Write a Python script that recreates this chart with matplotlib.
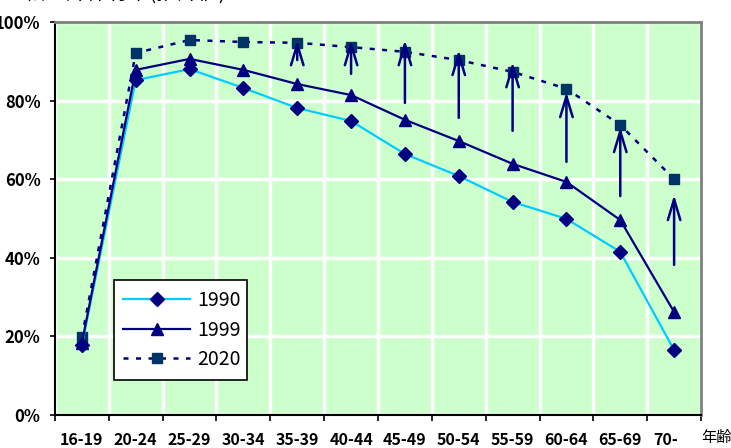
import matplotlib
matplotlib.use("Agg")
import matplotlib.pyplot as plt
import matplotlib.transforms as mtransforms
import numpy as np

plt.rcParams['font.family'] = ['Noto Sans CJK JP', 'DejaVu Sans']

# age groups and rates (%)
ages = ["16-19", "20-24", "25-29", "30-34", "35-39", "40-44",
        "45-49", "50-54", "55-59", "60-64", "65-69", "70-"]
rate_1990 = [17.8, 85.2, 88.0, 83.2, 78.1, 74.8, 66.4, 60.8, 54.2, 49.9, 41.5, 16.5]
rate_1999 = [18.3, 87.8, 90.6, 87.8, 84.2, 81.4, 75.1, 69.7, 63.9, 59.3, 49.6, 26.2]
rate_2020 = [19.8, 92.1, 95.4, 94.9, 94.7, 93.6, 92.4, 90.3, 87.3, 83.0, 73.8, 60.0]

# upward arrows: group index, tail value, head value
arrow_idx = [4, 5, 6, 7, 8, 9, 10, 11]
arrow_from = [90.3, 86.8, 79.4, 75.6, 72.3, 64.4, 55.7, 38.2]
arrow_to = [95.4, 95.4, 95.4, 92.9, 89.8, 82.2, 73.3, 56.0]

y_ticks = [0, 20, 40, 60, 80, 100]
y_labels = ["0%", "20%", "40%", "60%", "80%", "100%"]

NAVY = "#000080"
LIGHT_BLUE = "#00CCFF"
SQUARE = "#003366"
BG = "#CCFFCC"

fig = plt.figure(figsize=(7.31, 4.48), dpi=100)
ax = fig.add_axes([0.0752, 0.0737, 0.8838, 0.8773])
ax.set_facecolor(BG)

x = np.arange(len(ages))

ax.plot(x, rate_1990, color=LIGHT_BLUE, lw=1.6, marker="D", ms=7.5,
        mfc=NAVY, mec=NAVY, label="1990", zorder=4)
ax.plot(x, rate_1999, color=NAVY, lw=1.6, marker="^", ms=9,
        mfc=NAVY, mec=NAVY, label="1999", zorder=4)
ax.plot(x, rate_2020, color=NAVY, lw=1.8, ls=(0, (2, 3)), marker="s", ms=7.5,
        mfc=SQUARE, mec=SQUARE, label="2020", zorder=3)

for i, y0, y1 in zip(arrow_idx, arrow_from, arrow_to):
    ax.annotate("", xy=(x[i], y1), xytext=(x[i], y0),
                arrowprops=dict(arrowstyle="->,head_length=1.0,head_width=0.3",
                                color=NAVY, lw=1.8, mutation_scale=15,
                                shrinkA=0, shrinkB=0),
                zorder=5)

ax.set_xlim(-0.5, len(ages) - 0.5)
ax.set_ylim(0, 100)

# white grid on category boundaries and every 20%
ax.set_xticks(np.arange(len(ages) + 1) - 0.5)
ax.set_xticklabels([])
ax.set_xticks(x, minor=True)
ax.set_xticklabels(ages, minor=True, fontsize=11.5, fontweight="bold")
ax.tick_params(axis="x", which="minor", length=0, pad=12)
ax.tick_params(axis="x", which="major", length=4, width=1.2, direction="out")
ax.set_yticks(y_ticks)
ax.set_yticklabels(y_labels, fontsize=12, fontweight="bold")
ax.tick_params(axis="y", length=3.5, width=1.2, direction="out", pad=7)
ax.grid(True, which="major", color="white", lw=2.5)
ax.set_axisbelow(True)

# last age label sits a little left, next to the axis unit
last = ax.get_xticklabels(minor=True)[-1]
last.set_transform(last.get_transform() +
                   mtransforms.ScaledTranslation(-0.08, 0, fig.dpi_scale_trans))

for side in ("top", "right"):
    ax.spines[side].set_color("#808080")
    ax.spines[side].set_linewidth(2)
for side in ("left", "bottom"):
    ax.spines[side].set_color("black")
    ax.spines[side].set_linewidth(1.5)

leg = ax.legend(loc="lower left", bbox_to_anchor=(0.091, 0.089, 0.206, 0.25),
                mode="expand", borderaxespad=0, fontsize=14, handlelength=3.4,
                handletextpad=0.4, labelspacing=0.45, borderpad=0.5,
                fancybox=False, framealpha=1, edgecolor="black")
leg.get_frame().set_linewidth(1.2)

fig.text(0.959, 0.024, "年齢", fontsize=11, ha="left", va="center")
fig.text(0.005, 1.017, "運転免許保有率(推計値)", fontsize=15, ha="left", va="center")

fig.savefig("out.png", dpi=100)
